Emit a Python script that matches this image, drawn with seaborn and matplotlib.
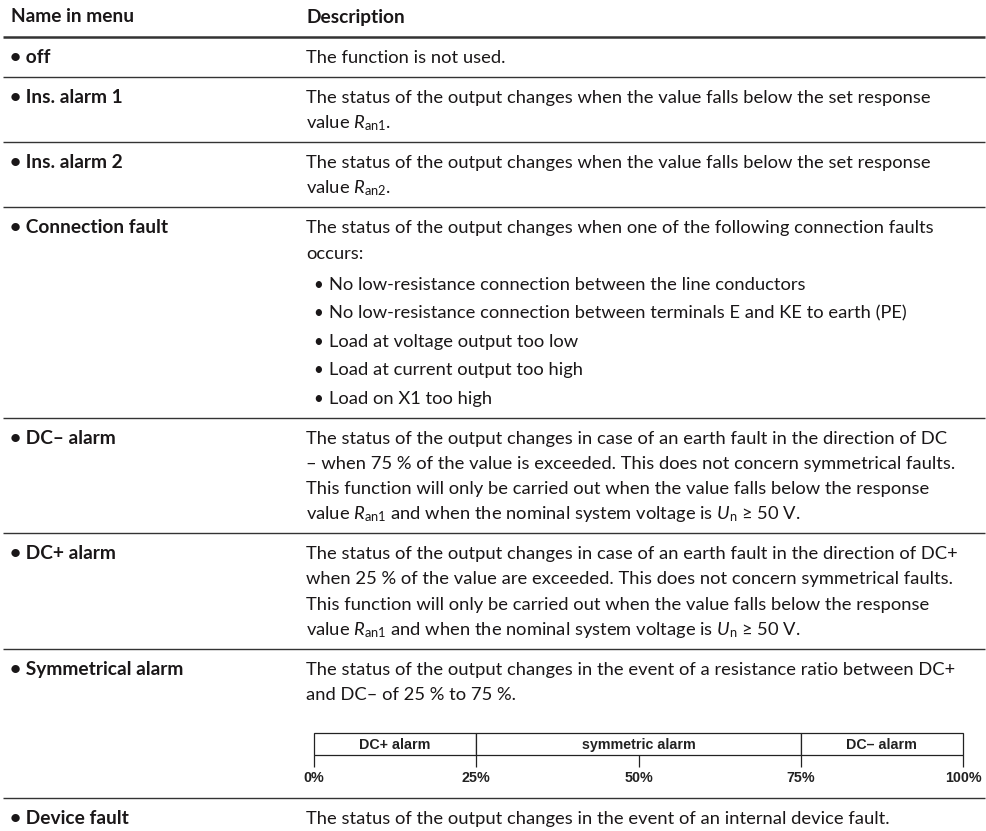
import matplotlib
matplotlib.use("Agg")
import matplotlib.pyplot as plt
import seaborn as sns

# table content
header = ["Name in menu", "Description"]
names = ["off", "Ins. alarm 1", "Ins. alarm 2", "Connection fault",
         "DC– alarm", "DC+ alarm", "Symmetrical alarm", "Device fault"]
descriptions = [
    ["The function is not used."],
    ["The status of the output changes when the value falls below the set response",
     r"value $R_{\mathrm{an1}}$."],
    ["The status of the output changes when the value falls below the set response",
     r"value $R_{\mathrm{an2}}$."],
    ["The status of the output changes when one of the following connection faults",
     "occurs:"],
    ["The status of the output changes in case of an earth fault in the direction of DC",
     "– when 75 % of the value is exceeded. This does not concern symmetrical faults.",
     "This function will only be carried out when the value falls below the response",
     r"value $R_{\mathrm{an1}}$ and when the nominal system voltage is $U_{\mathrm{n}}$ ≥ 50 V."],
    ["The status of the output changes in case of an earth fault in the direction of DC+",
     "when 25 % of the value are exceeded. This does not concern symmetrical faults.",
     "This function will only be carried out when the value falls below the response",
     r"value $R_{\mathrm{an1}}$ and when the nominal system voltage is $U_{\mathrm{n}}$ ≥ 50 V."],
    ["The status of the output changes in the event of a resistance ratio between DC+",
     "and DC– of 25 % to 75 %."],
    ["The status of the output changes in the event of an internal device fault."],
]
connection_faults = [
    "No low-resistance connection between the line conductors",
    "No low-resistance connection between terminals E and KE to earth (PE)",
    "Load at voltage output too low",
    "Load at current output too high",
    "Load on X1 too high",
]
bullet_row = 3
diagram_row = 6

# alarm range diagram
seg_edges = [0, 25, 75, 100]
seg_labels = ["DC+ alarm", "symmetric alarm", "DC– alarm"]
tick_values = [0, 25, 50, 75, 100]
tick_labels = ["0%", "25%", "50%", "75%", "100%"]

sns.set_theme(style="white")
plt.rcParams["font.family"] = ["Lato", "DejaVu Sans"]
plt.rcParams["mathtext.fontset"] = "custom"
plt.rcParams["mathtext.rm"] = "Lato"
plt.rcParams["mathtext.it"] = "Lato:italic"
plt.rcParams["mathtext.bf"] = "Lato:bold"

W, H = 987, 831
fig = plt.figure(figsize=(W / 100, H / 100), dpi=100)
ax = fig.add_axes([0, 0, 1, 1])
ax.set_xlim(0, W)
ax.set_ylim(H, 0)
ax.axis("off")

ink = "#1a1718"
rule_c = "#333333"
fs = 13.2
fs_bold = 13.8
x_name, x_desc = 10, 306
x_bul, x_bul_txt = 313, 329
line_h, pre, post = 25.2, 19.5, 20.5
bul_gap, bul_h = 31, 28.5
base = 6.5  # visual centre -> baseline

ax.text(x_name + 1, 16 + base, header[0], fontsize=fs_bold, fontweight="bold", color=ink, va="baseline")
ax.text(x_desc, 16 + base, header[1], fontsize=fs_bold, fontweight="bold", color=ink, va="baseline")
y = 37
ax.plot([3, 985], [y, y], color=rule_c, lw=1.8, solid_capstyle="butt")

for i, name in enumerate(names):
    c = y + pre
    ax.text(x_name, c + base, "• " + name, fontsize=fs_bold, fontweight="bold",
            color=ink, va="baseline")
    lines = descriptions[i]
    for j, t in enumerate(lines):
        ax.text(x_desc, c + j * line_h + base, t, fontsize=fs, color=ink, va="baseline")
    last = c + (len(lines) - 1) * line_h
    if i == bullet_row:
        for k, t in enumerate(connection_faults):
            yy = last + bul_gap + k * bul_h
            ax.text(x_bul, yy + base, "•", fontsize=fs - 1, color=ink, va="baseline")
            ax.text(x_bul_txt, yy + base, t, fontsize=fs, color=ink, va="baseline")
        last = last + bul_gap + (len(connection_faults) - 1) * bul_h
    if i == diagram_row:
        top = last + 39
        box_h = 22
        dax = fig.add_axes([314 / W, 1 - (top + box_h) / H, 649 / W, box_h / H])
        lefts = seg_edges[:-1]
        widths = [b - a for a, b in zip(seg_edges[:-1], seg_edges[1:])]
        dax.barh([0] * len(lefts), widths, left=lefts, height=1,
                 color="white", edgecolor="#222222", linewidth=0.9, clip_on=False)
        for a, w, lab in zip(lefts, widths, seg_labels):
            dax.text(a + w / 2, -0.06, lab, ha="center", va="center", fontsize=10.3,
                     fontweight="bold", family="Liberation Sans", color="#222222")
        dax.set_xlim(0, 100)
        dax.set_ylim(-0.5, 0.5)
        dax.set_yticks([])
        dax.set_xticks(tick_values)
        dax.set_xticklabels(tick_labels, fontsize=10.3, fontweight="bold",
                            family="Liberation Sans", color="#222222")
        dax.tick_params(axis="x", bottom=True, direction="out", length=8.6,
                        width=0.9, color="#222222", pad=3.5)
        sns.despine(ax=dax, left=True, bottom=True)
        last = top + 45
    y = last + post
    if i < len(names) - 1:
        ax.plot([3, 985], [y, y], color=rule_c, lw=1.0, solid_capstyle="butt")

fig.savefig("out.png", dpi=100, facecolor="white")
